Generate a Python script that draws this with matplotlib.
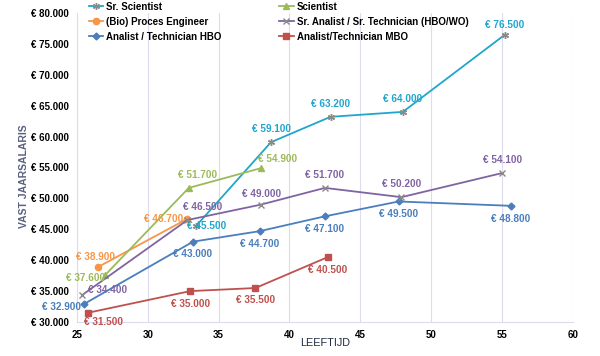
import numpy as np
import matplotlib
matplotlib.use("Agg")
from matplotlib import pyplot as plt

plt.rcParams['font.family'] = ['Liberation Sans', 'DejaVu Sans']

# leeftijd / salaris per functie
sr_sci_age = [33.4, 38.7, 42.9, 48.0, 55.2]
sr_sci_sal = [45500, 59100, 63200, 64000, 76500]

sci_age = [27.0, 32.9, 38.0]
sci_sal = [37600, 51700, 54900]

bio_age = [26.5, 32.8]
bio_sal = [38900, 46700]

sr_an_age = [25.4, 32.8, 38.0, 42.5, 47.9, 55.0]
sr_an_sal = [34400, 46500, 49000, 51700, 50200, 54100]

an_hbo_age = [25.5, 33.2, 37.9, 42.5, 47.7, 55.6]
an_hbo_sal = [32900, 43000, 44700, 47100, 49500, 48800]

mbo_age = [25.8, 33.0, 37.6, 42.7]
mbo_sal = [31500, 35000, 35500, 40500]

# (naam, x, y, kleur, marker, markergrootte, label-offsets in pixels)
series = [
    ("Sr. Scientist", sr_sci_age, sr_sci_sal, "#1fa6cc", (6, 2, 0), 5,
     [(11, 0), (0, 13), (0, 13), (0, 13), (0, 10)]),
    ("(Bio) Proces Engineer", bio_age, bio_sal, "#f79646", "o", 4.5,
     [(-3, 10), (-24, 0)]),
    ("Analist / Technician HBO", an_hbo_age, an_hbo_sal, "#4a7ebd", "D", 3.5,
     [(-22, -3), (0, -12), (0, -13), (0, -13), (0, -13), (0, -13)]),
    ("Scientist", sci_age, sci_sal, "#9bbb59", "^", 4.5,
     [(-20, -3), (9, 13), (16, 9)]),
    ("Sr. Analist / Sr. Technician (HBO/WO)", sr_an_age, sr_an_sal, "#8064a2", "x", 4.5,
     [(25, 5), (15, 13), (0, 11), (0, 13), (0, 13), (0, 13)]),
    ("Analist/Technician MBO", mbo_age, mbo_sal, "#c0504d", "s", 4.5,
     [(15, -9), (0, -13), (0, -12), (0, -13)]),
]

fig = plt.figure(figsize=(6, 3.56), dpi=100)
ax = fig.add_axes([0.128, 0.0955, 0.827, 0.868])

for name, xs, ys, col, mk, ms, offs in series:
    ax.plot(xs, ys, color=col, lw=1.3, marker=mk, ms=ms,
            mec="#8a8a8a" if mk in ("x", (6, 2, 0)) else col, mfc=col,
            mew=1.0, label=name)
    for x, y, (dx, dy) in zip(xs, ys, offs):
        txt = "€ " + f"{y:,}".replace(",", ".")
        ax.annotate(txt, (x, y), xytext=(dx, dy), textcoords="offset pixels",
                    ha="center", va="center", fontsize=7.2, fontweight="bold",
                    color=col)

ax.set_xlim(25, 60)
ax.set_ylim(30000, 80000)
ax.set_xticks(np.arange(25, 61, 5))
ax.set_yticks(np.arange(30000, 80001, 5000))
ax.set_yticklabels(["€ " + f"{v:,}".replace(",", ".") for v in range(30000, 80001, 5000)])
ax.tick_params(length=0, labelsize=7, pad=6)
for lab in ax.get_xticklabels() + ax.get_yticklabels():
    lab.set_fontweight("bold")

ax.grid(axis="x", color="#dcdcf0", lw=0.8)
ax.set_axisbelow(True)
for s in ["top", "right"]:
    ax.spines[s].set_visible(False)
ax.spines["left"].set_color("#dcdcf0")
ax.spines["bottom"].set_color("#dcdcf0")

ax.set_xlabel("LEEFTIJD", fontsize=7.8, color="#1f2a44")
ax.xaxis.set_label_coords(0.5, -0.052)
ax.set_ylabel("VAST JAARSALARIS", fontsize=7.5, fontweight="bold", color="#5a6080")
ax.yaxis.set_label_coords(-0.097, 0.472)

fig.legend(loc="upper left", bbox_to_anchor=(85 / 600, 1 - (-2) / 356), ncol=2,
           frameon=False, handlelength=1.5, handletextpad=0.3,
           columnspacing=5.9, labelspacing=0.5, borderaxespad=0,
           prop={"weight": "bold", "size": 7})

fig.savefig("out.png", dpi=100)
